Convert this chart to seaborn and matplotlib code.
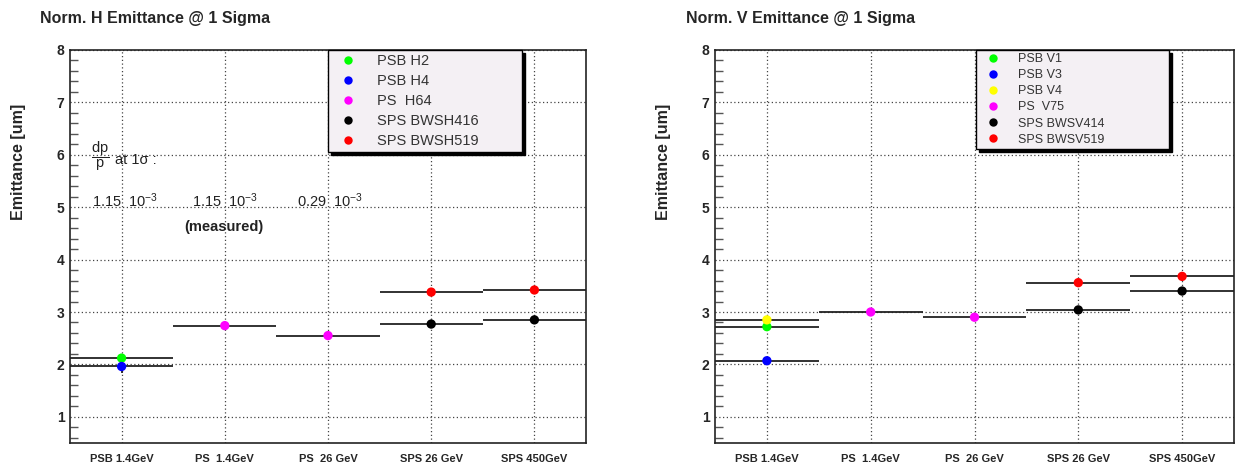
import numpy as np
import pandas as pd
import seaborn as sns
import matplotlib
matplotlib.use("Agg")
import matplotlib.pyplot as plt
from matplotlib.ticker import MultipleLocator

# machines along the x axis
categories = ["PSB 1.4GeV", "PS  1.4GeV", "PS  26 GeV", "SPS 26 GeV", "SPS 450GeV"]

# horizontal emittance
h_series = ["PSB H2", "PSB H4", "PS  H64", "PS  H64",
            "SPS BWSH416", "SPS BWSH416", "SPS BWSH519", "SPS BWSH519"]
h_machine = [0, 0, 1, 2, 3, 4, 3, 4]
h_value = [2.12, 1.96, 2.74, 2.55, 2.77, 2.85, 3.38, 3.42]
h_err = [0.0, 0.12, 0.0, 0.0, 0.05, 0.05, 0.0, 0.0]
h_order = ["PSB H2", "PSB H4", "PS  H64", "SPS BWSH416", "SPS BWSH519"]
h_colors = ["#00ff00", "#0000ff", "#ff00ff", "#000000", "#ff0000"]

# vertical emittance
v_series = ["PSB V1", "PSB V3", "PSB V4", "PS  V75", "PS  V75",
            "SPS BWSV414", "SPS BWSV414", "SPS BWSV519", "SPS BWSV519"]
v_machine = [0, 0, 0, 1, 2, 3, 4, 3, 4]
v_value = [2.72, 2.07, 2.85, 3.00, 2.90, 3.04, 3.40, 3.56, 3.68]
v_err = [0.04, 0.03, 0.0, 0.0, 0.0, 0.05, 0.05, 0.0, 0.0]
v_order = ["PSB V1", "PSB V3", "PSB V4", "PS  V75", "SPS BWSV414", "SPS BWSV519"]
v_colors = ["#00ff00", "#0000ff", "#ffff00", "#ff00ff", "#000000", "#ff0000"]

# momentum spread notes (left panel)
dpp_values = ["1.15", "1.15", "0.29"]
dpp_x = [-0.29, 0.68, 1.70]

sns.set_theme(style="white")
plt.rcParams["font.family"] = ["Liberation Sans", "DejaVu Sans"]
plt.rcParams["mathtext.fontset"] = "custom"
plt.rcParams["mathtext.rm"] = "Liberation Sans"
plt.rcParams["mathtext.it"] = "Liberation Sans:italic"
plt.rcParams["mathtext.bf"] = "Liberation Sans:bold"


def panel(ax, series, machine, value, err, order, colors, legend_font, spacing, bbox):
    df = pd.DataFrame({"series": series, "x": machine, "emit": value, "err": err})
    ax.hlines(df["emit"], df["x"] - 0.5, df["x"] + 0.5, color="#222222", lw=1.3, zorder=3)
    e = df[df["err"] > 0]
    ax.errorbar(e["x"], e["emit"], yerr=e["err"], fmt="none", ecolor="#222222",
                elinewidth=1.3, capsize=0, zorder=3)
    sns.scatterplot(data=df, x="x", y="emit", hue="series", hue_order=order,
                    palette=dict(zip(order, colors)), s=45, linewidth=0,
                    ax=ax, zorder=4)
    old = ax.get_legend()
    handles = old.legend_handles
    labels = [t.get_text() for t in old.texts]
    old.remove()
    leg = ax.legend(handles, labels, loc="upper left", bbox_to_anchor=bbox, mode="expand",
                    frameon=True, fancybox=False, shadow={"color": "black", "alpha": 1},
                    facecolor="#f4f0f4", edgecolor="black", framealpha=1,
                    labelspacing=spacing, borderaxespad=0,
                    borderpad=0.25, handletextpad=0.9, markerscale=0.9,
                    handlelength=2.2, prop={"family": "Liberation Sans", "size": legend_font})
    leg.get_frame().set_linewidth(1.0)
    for t in leg.get_texts():
        t.set_color("#333333")
    leg.set_zorder(6)

    ax.set_xlim(-0.5, 4.5)
    ax.set_ylim(0.5, 8)
    ax.set_xticks(range(len(categories)))
    ax.set_xticklabels(categories, fontsize=8, fontweight="bold")
    ax.yaxis.set_major_locator(MultipleLocator(1))
    ax.yaxis.set_minor_locator(MultipleLocator(0.2))
    ax.set_yticks(range(1, 9))
    for lab in ax.get_yticklabels():
        lab.set_fontweight("bold")
        lab.set_fontsize(10)
    ax.tick_params(axis="both", which="major", direction="in", length=12, width=1.0,
                   color="#333333", pad=4)
    ax.tick_params(axis="x", pad=8)
    ax.tick_params(axis="y", which="minor", direction="in", length=6, width=1.0,
                   color="#555555", left=True)
    ax.tick_params(axis="x", which="minor", bottom=False)
    ax.grid(True, which="major", linestyle=(0, (1, 2)), color="#444444", lw=0.9)
    for s in ax.spines.values():
        s.set_color("#222222")
        s.set_linewidth(1.2)
    ax.set_xlabel("")
    ax.set_ylabel("Emittance [um]", fontsize=11.5, fontweight="bold", va="center")
    ax.yaxis.set_label_coords(-0.1, 0.715)


fig = plt.figure(figsize=(12.35, 4.65), dpi=100)
ax1 = fig.add_axes([70 / 1235, 1 - 443 / 465, 516 / 1235, 393 / 465])
ax2 = fig.add_axes([715 / 1235, 1 - 443 / 465, 519 / 1235, 393 / 465])

panel(ax1, h_series, h_machine, h_value, h_err, h_order, h_colors, 10.5, 0.42,
      (0.5, 1.0, 0.376, 0.0))
panel(ax2, v_series, v_machine, v_value, v_err, v_order, v_colors, 9, 0.33,
      (0.503, 1.0, 0.372, 0.0))

fig.text(40 / 1235, 1 - 19 / 465, "Norm. H Emittance @ 1 Sigma", fontsize=11.5,
         fontweight="bold", va="center", ha="left")
fig.text(686 / 1235, 1 - 19 / 465, "Norm. V Emittance @ 1 Sigma", fontsize=11.5,
         fontweight="bold", va="center", ha="left")

ax1.text(-0.30, 5.98, r"$\dfrac{\mathrm{dp}}{\mathrm{p}}$", fontsize=10.5,
         va="center", ha="left", color="#222222")
ax1.text(-0.06, 5.90, "at 1σ :", fontsize=10.5, va="center", ha="left", color="#222222")
for val, xx in zip(dpp_values, dpp_x):
    ax1.text(xx, 5.12, val + r"  $10^{-3}$", fontsize=10.5, va="center", ha="left",
             color="#222222")
ax1.text(0.61, 4.62, "(measured)", fontsize=10.5, fontweight="bold", va="center",
         ha="left", color="#222222")

fig.savefig("out.png", dpi=100)
